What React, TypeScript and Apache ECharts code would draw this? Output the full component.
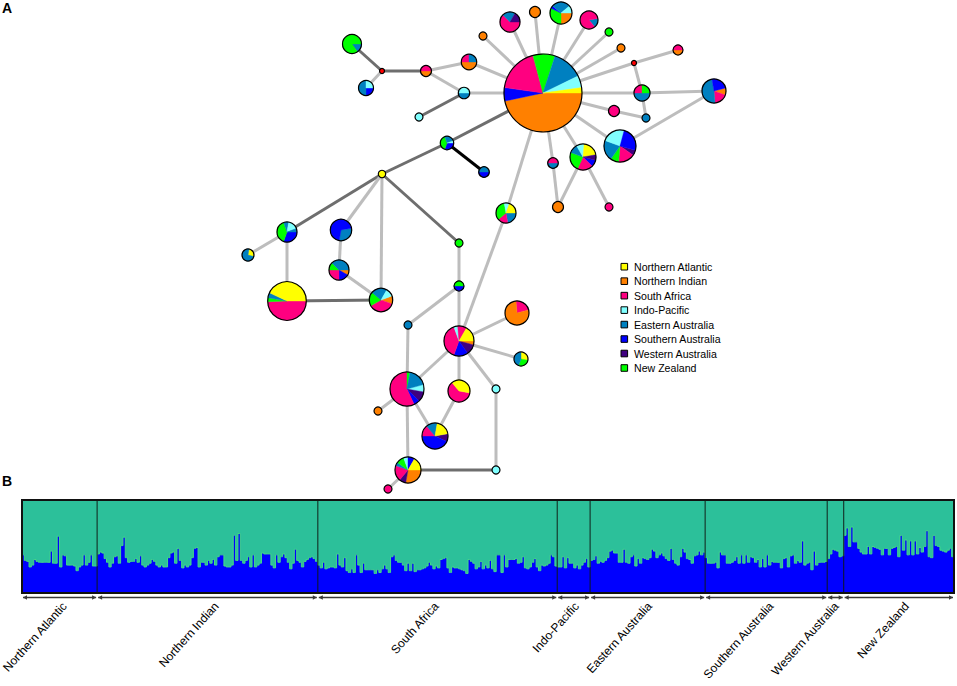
import React, { useEffect, useRef } from "react";
import * as echarts from "echarts";

const FONT = "'Liberation Sans', Arial, Helvetica, sans-serif";

// ---- regions (legend order) ----
const regions = [
  "Northern Atlantic",
  "Northern Indian",
  "South Africa",
  "Indo-Pacific",
  "Eastern Australia",
  "Southern Australia",
  "Western Australia",
  "New Zealand",
];
const regionColors = ["#FFFF00", "#FF8000", "#FF0080", "#80FFFF", "#0080C0", "#0000FF", "#400080", "#00FF00"];
const medianColor = "#FF0000";

const NA = 0, NI = 1, SA = 2, IP = 3, EA = 4, SO = 5, WA = 6, NZ = 7, MV = 8;

// ---- haplotype network: [x, y, radius, first slice angle (deg), slices [region, count]] ----
const nodes: [number, number, number, number, [number, number][]][] = [
  [543, 93, 39, 0, [[NI, 168], [SO, 20], [SA, 67], [NZ, 33], [EA, 46], [IP, 18], [NA, 8]]], // 0
  [510, 22, 10, 0, [[SA, 225], [EA, 75], [WA, 60]]], // 1
  [535, 12, 5.5, 0, [[NI, 1]]], // 2
  [561, 13, 11, 0, [[NI, 90], [NZ, 115], [SO, 15], [EA, 100], [IP, 40]]], // 3
  [589, 20, 9, -10, [[EA, 60], [SA, 300]]], // 4
  [609, 32, 4, 0, [[NZ, 1]]], // 5
  [621, 48, 4, 0, [[NI, 1]]], // 6
  [634, 63, 2.5, 0, [[MV, 1]]], // 7
  [678, 50, 5, 0, [[NI, 1], [SA, 1]]], // 8
  [642, 93, 8, 0, [[EA, 180], [SA, 90], [NZ, 90]]], // 9
  [714, 91, 12, -15, [[NI, 35], [SA, 65], [EA, 175], [SO, 85]]], // 10
  [614, 111, 5.5, 0, [[SA, 1]]], // 11
  [646, 118, 4, 0, [[EA, 1]]], // 12
  [620, 146, 16, 15, [[WA, 20], [SA, 60], [NZ, 30], [EA, 75], [IP, 85], [SO, 90]]], // 13
  [583, 157, 13, 15, [[SO, 30], [SA, 70], [NZ, 85], [EA, 40], [IP, 35], [NA, 75], [WA, 25]]], // 14
  [553, 163, 5.3, 0, [[EA, 1], [SA, 1]]], // 15
  [558, 207, 5.5, 0, [[NI, 1]]], // 16
  [609, 207, 4, 0, [[SA, 1]]], // 17
  [506, 213, 10, 0, [[EA, 80], [SA, 60], [NZ, 120], [IP, 30], [NA, 70]]], // 18
  [483, 36, 4, 0, [[NI, 1]]], // 19
  [469, 62, 7.7, 0, [[NI, 2], [SA, 1], [EA, 1]]], // 20
  [464, 93, 5.7, 0, [[EA, 1], [IP, 1]]], // 21
  [426, 71, 5.5, 0, [[NI, 1], [SA, 1]]], // 22
  [382, 71, 2.5, 0, [[MV, 1]]], // 23
  [352, 44, 9.5, 0, [[EA, 55], [NZ, 305]]], // 24
  [366, 88, 7.5, 0, [[SO, 1], [EA, 2], [IP, 1]]], // 25
  [419, 117, 4, 0, [[IP, 1]]], // 26
  [447, 143, 6.7, 0, [[SO, 110], [NZ, 140], [EA, 90], [IP, 20]]], // 27
  [484, 172, 5.3, 0, [[SO, 1], [EA, 1]]], // 28
  [382, 174, 3.7, 0, [[NA, 1]]], // 29
  [287, 232, 10, 0, [[SO, 110], [NZ, 140], [EA, 30], [IP, 60], [EA, 20]]], // 30
  [248, 255, 6, -80, [[NA, 95], [EA, 265]]], // 31
  [341, 230, 10.7, -10, [[EA, 110], [SO, 250]]], // 32
  [339, 270, 10, 0, [[NI, 30], [SO, 60], [SA, 90], [NZ, 45], [EA, 135]]], // 33
  [287, 301, 19.3, 0, [[SA, 178], [NZ, 12], [EA, 15], [NA, 155]]], // 34
  [381, 300, 11.7, -20, [[NI, 40], [SA, 130], [NZ, 70], [EA, 80], [IP, 40]]], // 35
  [408, 325, 4, 0, [[EA, 1]]], // 36
  [459, 243, 4, 0, [[NZ, 1]]], // 37
  [459, 286, 5, 0, [[SO, 1], [NZ, 1]]], // 38
  [459, 341, 15, 0, [[NI, 15], [WA, 40], [SO, 55], [SA, 140], [IP, 15], [SA, 35], [NA, 60]]], // 39
  [517, 313, 12, -95, [[SA, 80], [NI, 280]]], // 40
  [521, 359, 7, -90, [[NA, 100], [NZ, 100], [EA, 160]]], // 41
  [407, 389, 17, -15, [[IP, 25], [WA, 35], [SO, 20], [SA, 205], [NZ, 10], [EA, 65]]], // 42
  [378, 411, 4, 0, [[NI, 1]]], // 43
  [459, 391, 11, 10, [[SA, 220], [NA, 140]]], // 44
  [496, 389, 4, 0, [[IP, 1]]], // 45
  [435, 436, 13, -10, [[WA, 35], [SO, 155], [SA, 50], [EA, 50], [NA, 70]]], // 46
  [408, 470, 13, 0, [[NI, 100], [WA, 30], [SA, 70], [EA, 15], [NZ, 35], [IP, 20], [SO, 30], [NA, 60]]], // 47
  [496, 470, 4, 0, [[IP, 1]]], // 48
  [388, 489, 4, 0, [[SA, 1]]], // 49
];

// ---- network links: [from, to, kind] kind 0 light, 1 dark, 2 black ----
const L = 0, D = 1, B = 2;
const edges: [number, number, number][] = [
  [0, 1, L], [0, 2, L], [0, 3, L], [0, 4, L], [0, 5, L], [0, 6, L], [0, 7, L], [7, 8, L], [7, 9, L],
  [0, 9, L], [9, 10, L], [0, 11, L], [11, 12, L], [12, 9, L], [0, 13, L], [13, 10, L], [0, 14, L],
  [0, 15, L], [14, 16, L], [15, 16, L], [14, 17, L], [0, 18, L], [18, 39, L], [0, 21, L], [0, 20, L],
  [0, 19, L], [0, 27, D], [27, 28, B], [27, 29, D], [21, 26, D], [21, 22, L], [22, 20, L], [22, 23, D],
  [23, 24, D], [23, 25, L], [29, 30, D], [29, 32, L], [29, 35, L], [29, 37, D], [30, 31, L], [30, 34, L],
  [32, 33, L], [33, 35, L], [34, 35, D], [37, 38, L], [38, 39, L], [38, 36, L], [36, 42, L], [39, 42, L],
  [39, 40, L], [39, 41, L], [39, 44, L], [39, 45, L], [45, 48, L], [48, 47, D], [42, 43, L], [42, 46, L],
  [44, 46, L], [42, 47, L], [47, 49, L],
];
const edgeColors = ["#BDBDBD", "#6E6E6E", "#000000"];

// ---- STRUCTURE plot: membership (%) in the blue cluster, per individual ----
const qNorthernAtlantic = [41, 35, 34, 28, 30, 36, 34, 33, 33, 33, 33, 33, 45, 32, 32, 61, 28, 41, 40, 30, 30, 30, 29, 24, 28, 30, 41, 30, 33, 41, 29, 29];
const qNorthernIndian = [
  42, 44, 43, 37, 33, 28, 32, 39, 40, 32, 51, 60, 38, 33, 34, 34, 37, 33, 40, 30, 28, 30, 32, 36, 34, 30, 28, 30, 28, 28,
  38, 43, 44, 32, 48, 35, 27, 30, 28, 30, 38, 48, 49, 28, 33, 33, 30, 35,
  32, 36, 30, 39, 41, 41, 29, 28, 28, 30, 62, 35, 64, 35, 32, 35, 39, 28, 41, 28, 30, 32, 43, 42, 42, 42, 30, 27, 41, 33,
  39, 42, 38, 33, 26, 32, 47, 35, 33, 28, 34, 36, 38, 39, 37, 34,
];
const qSouthAfrica = [
  30, 27, 33, 26, 27, 28, 28, 27, 42, 30, 28, 38, 24, 22, 26, 22, 41, 30, 22, 32, 25, 25, 25, 25, 21, 25, 22, 26, 30, 26,
  22, 39, 41,
  35, 33, 33, 30, 24, 32, 24, 32, 23, 25, 25, 26, 27, 29, 33, 30, 26, 29, 27, 36, 37, 38, 27, 22, 28, 27, 27, 26, 25, 24,
  21, 36, 34, 32, 26, 28, 34, 26, 30, 27, 35, 26, 23, 41, 41, 22, 41, 28, 36, 36, 36, 37, 32, 33, 39, 27, 26, 28, 33, 37,
  28, 24, 30, 29, 30, 32, 41, 39, 29,
];
const qIndoPacific = [28, 28, 39, 27, 38, 32, 32, 27, 30, 26, 30, 33, 37, 28];
const qEasternAustralia = [
  35, 36, 40, 32, 34, 33, 35, 38, 45, 46, 43, 43, 33, 33, 47, 33, 32, 39, 41, 29, 37, 32, 38, 37, 36, 38, 47, 45, 38, 41,
  43, 40, 37, 35, 48, 36, 32, 30, 39, 48, 44, 37, 36, 32, 40, 41, 45, 41, 44,
];
const qSouthernAustralia = [
  38, 32, 32, 32, 33, 27, 44, 41, 41, 32, 32, 33, 35, 39, 32, 41, 32, 41, 33, 39, 38, 33, 36, 28, 37, 28,
  41, 30, 34, 33, 33, 33, 27, 37, 38, 28, 40, 41, 32, 35, 33, 56, 30, 32, 33, 25, 45, 30, 33, 33, 33, 34,
];
const qWesternAustralia = [37, 42, 47, 46, 45, 39, 40];
const qNewZealand = [
  62, 70, 50, 71, 55, 55, 48, 44, 42, 42, 50, 42, 50, 49, 48, 47, 41, 48, 48, 41, 48, 49, 50, 39, 62, 46, 57, 41, 56, 41,
  56, 42, 49, 44, 50, 67, 39, 38, 62, 51, 50, 46, 45, 44, 46, 48, 39,
];
const structureGroups = [
  qNorthernAtlantic, qNorthernIndian, qSouthAfrica, qIndoPacific,
  qEasternAustralia, qSouthernAustralia, qWesternAustralia, qNewZealand,
];
// small horizontal shifts (px) of the rotated population labels
const labelNudge = [5, 9, -1, 3, 2, 5, 1, 8];
const LABEL_ANGLE = 48; // degrees

const colorOf = (r: number) => (r === MV ? medianColor : regionColors[r]);

export default function App() {
  const ref = useRef<HTMLDivElement>(null);
  useEffect(() => {
    const chart = echarts.init(ref.current!, null, { renderer: "svg" });

    const blue: number[] = [];
    const groupRanges: number[][] = [];
    structureGroups.forEach((g, gi) => {
      const s = blue.length;
      g.forEach((v) => blue.push(v / 100));
      groupRanges.push([s, blue.length, gi]);
    });
    const total = blue.length;

    const graphics: any[] = [
      { type: "text", x: 2, y: 8, style: { text: "A", fill: "#000", font: `bold 14px ${FONT}`, verticalAlign: "middle" } },
      { type: "text", x: 2, y: 481, style: { text: "B", fill: "#000", font: `bold 14px ${FONT}`, verticalAlign: "middle" } },
    ];
    regions.forEach((name, i) => {
      const cy = 266.7 + i * 14.47;
      graphics.push({
        type: "rect",
        shape: { x: 621, y: cy - 3.3, width: 6.6, height: 6.6 },
        style: { fill: regionColors[i], stroke: "#000", lineWidth: 1 },
      });
      graphics.push({
        type: "text",
        x: 634,
        y: cy,
        style: { text: name, fill: "#000", fontSize: 10.6, fontFamily: FONT, verticalAlign: "middle" },
      });
    });

    const option: any = {
      animation: false,
      backgroundColor: "#fff",
      graphic: graphics,
      grid: [
        { left: 0, top: 0, width: 957, height: 686 },
        { left: 22, top: 500, width: 932, height: 93, show: true, backgroundColor: "#2CC09A", borderWidth: 0 },
      ],
      xAxis: [
        { type: "value", gridIndex: 0, min: 0, max: 957, show: false },
        { type: "category", gridIndex: 1, data: blue.map((_, i) => String(i + 1)), show: false },
        { type: "value", gridIndex: 1, min: 0, max: total, show: false },
      ],
      yAxis: [
        { type: "value", gridIndex: 0, min: 0, max: 686, inverse: true, show: false },
        { type: "value", gridIndex: 1, min: 0, max: 1, show: false },
      ],
      series: [
        {
          type: "custom",
          name: "links",
          xAxisIndex: 0,
          yAxisIndex: 0,
          encode: { x: [0, 2], y: [1, 3] },
          z: 1,
          data: edges.map(([a, b, k]) => [nodes[a][0], nodes[a][1], nodes[b][0], nodes[b][1], k]),
          renderItem: (params: any, api: any) => {
            const p1 = api.coord([api.value(0), api.value(1)]);
            const p2 = api.coord([api.value(2), api.value(3)]);
            const k = api.value(4);
            return {
              type: "line",
              shape: { x1: p1[0], y1: p1[1], x2: p2[0], y2: p2[1] },
              style: { stroke: edgeColors[k], lineWidth: 3 },
            };
          },
        },
        {
          type: "custom",
          name: "haplotypes",
          xAxisIndex: 0,
          yAxisIndex: 0,
          encode: { x: 0, y: 1 },
          z: 2,
          data: nodes.map((n) => [n[0], n[1], n[2]]),
          renderItem: (params: any, api: any) => {
            const n = nodes[params.dataIndex];
            const c = api.coord([api.value(0), api.value(1)]);
            const r = api.size([api.value(2), 0])[0];
            const slices = n[4];
            const children: any[] = [];
            if (slices.length === 1) {
              children.push({
                type: "circle",
                shape: { cx: c[0], cy: c[1], r },
                style: { fill: colorOf(slices[0][0]), stroke: "#000", lineWidth: 1.2 },
              });
            } else {
              const sum = slices.reduce((s, d) => s + d[1], 0);
              let a = (n[3] * Math.PI) / 180;
              slices.forEach(([reg, v]) => {
                const da = (v / sum) * Math.PI * 2;
                children.push({
                  type: "sector",
                  shape: { cx: c[0], cy: c[1], r, r0: 0, startAngle: a, endAngle: a + da, clockwise: true },
                  style: { fill: colorOf(reg), stroke: colorOf(reg), lineWidth: 0.4 },
                });
                a += da;
              });
              children.push({
                type: "circle",
                shape: { cx: c[0], cy: c[1], r },
                style: { fill: "none", stroke: "#000", lineWidth: 1.2 },
              });
            }
            return { type: "group", children };
          },
        },
        {
          type: "bar",
          name: "cluster 1",
          xAxisIndex: 1,
          yAxisIndex: 1,
          data: blue,
          barCategoryGap: "0%",
          itemStyle: { color: "#0000FF", borderColor: "#0000FF", borderWidth: 1 },
          z: 2,
        },
        {
          type: "line",
          name: "cluster 1 outline",
          xAxisIndex: 1,
          yAxisIndex: 1,
          data: blue,
          step: "middle",
          symbol: "none",
          lineStyle: { color: "#45DC86", width: 1 },
          areaStyle: { color: "#0000FF", opacity: 1 },
          z: 3,
        },
        {
          type: "custom",
          name: "populations",
          xAxisIndex: 2,
          yAxisIndex: 1,
          encode: { x: [0, 1] },
          z: 5,
          data: groupRanges,
          renderItem: (params: any, api: any) => {
            const s = api.value(0), e = api.value(1), gi = api.value(2);
            const pTop = api.coord([s, 1]);
            const pBot = api.coord([s, 0]);
            const pEnd = api.coord([e, 0]);
            const yA = pBot[1] + 4.5;
            const children: any[] = [];
            if (gi === 0) {
              const tl = api.coord([0, 1]);
              const br = api.coord([total, 0]);
              children.push({
                type: "rect",
                shape: { x: tl[0], y: tl[1], width: br[0] - tl[0], height: br[1] - tl[1] },
                style: { fill: "none", stroke: "#111", lineWidth: 2 },
              });
            } else {
              children.push({
                type: "line",
                shape: { x1: pTop[0], y1: pTop[1], x2: pBot[0], y2: pBot[1] },
                style: { stroke: "rgba(15,25,20,0.8)", lineWidth: 1.2 },
              });
            }
            const x0 = pBot[0] + 1, x1 = pEnd[0] - 1;
            const col = "#3a3a3a";
            children.push({ type: "line", shape: { x1: x0, y1: yA, x2: x1, y2: yA }, style: { stroke: col, lineWidth: 1.6 } });
            children.push({ type: "polygon", shape: { points: [[x0, yA], [x0 + 4, yA - 2.3], [x0 + 4, yA + 2.3]] }, style: { fill: col } });
            children.push({ type: "polygon", shape: { points: [[x1, yA], [x1 - 4, yA - 2.3], [x1 - 4, yA + 2.3]] }, style: { fill: col } });
            const mid = api.coord([(s + e) / 2, 0]);
            children.push({
              type: "text",
              x: mid[0] + labelNudge[gi],
              y: pBot[1] + 11,
              rotation: (LABEL_ANGLE * Math.PI) / 180,
              style: { text: regions[gi], fill: "#000", fontSize: 12, fontFamily: FONT, align: "right", verticalAlign: "middle" },
            });
            return { type: "group", children };
          },
        },
      ],
    };
    chart.setOption(option);
    return () => chart.dispose();
  }, []);
  return (
    <div
      ref={ref}
      style={{ position: "fixed", left: 0, top: 0, width: 957, height: 686, background: "#fff" }}
    />
  );
}
